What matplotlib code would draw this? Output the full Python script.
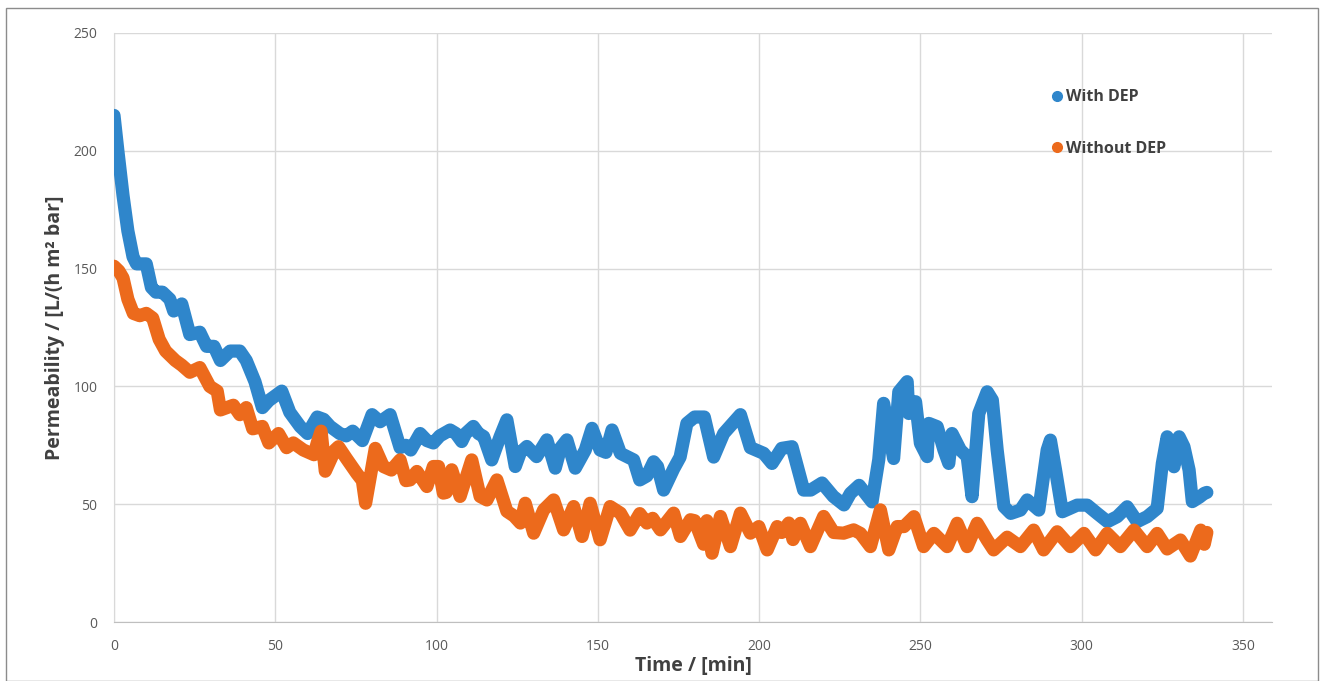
import numpy as np
import matplotlib.pyplot as plt
from matplotlib.lines import Line2D
from matplotlib.patches import Rectangle

# With DEP (time in min, permeability)
t_dep = [0, 1.2, 2.8, 4.3, 5.9, 7, 10, 11.6, 13, 15, 17.3, 18.5, 20, 21, 23.5, 26.6, 28.7, 31, 33, 36,
         39, 41, 43.7, 46, 48, 52, 54.5, 57.7, 60, 63, 65, 67, 70, 72, 74, 77, 80, 82.5, 85.6, 88.7,
         90.5, 92, 94.9, 97, 99, 101, 104.2, 106, 107.8, 109, 111.4, 113, 114.6, 117.1, 119.7, 121.8, 124.4, 126, 128, 131,
         134.2, 136.8, 138.5, 140.4, 143, 146.1, 148.2, 150.7, 152.5, 154.4, 157, 161.1, 163, 165.2, 167.3, 168.5, 170.4, 173.5, 175.5, 177.6,
         180, 183, 185.9, 189, 194.2, 197.3, 201.4, 204, 207, 210.2, 213.8, 216, 219.5, 223, 226.3, 228.3, 231, 235, 237.1, 238.6,
         241.7, 243.3, 245.9, 246.4, 248.5, 250, 252.1, 252.6, 255.2, 257.3, 258.8, 259.8, 262.4, 264.5, 266, 268.1, 270.7, 272.3, 273.8, 275.9,
         278, 281, 283.1, 286.7, 289.3, 290.3, 291.9, 294, 298.6, 301.7, 304.8, 308, 311, 314.1, 317.2, 320.3, 323.4, 325, 326.5, 328.6,
         330.2, 331.7, 333.3, 334.3, 336.5, 338, 338.8]
v_dep = [215, 200, 181, 166, 155, 152, 152, 142, 140, 140, 137, 132, 133, 135, 122, 123, 117, 117, 111, 115,
         115, 111, 102, 91, 94, 98, 89, 83, 80, 87, 86, 83, 80, 79, 81, 77, 88, 85, 88, 74,
         75, 73, 80, 77, 76, 79, 81.5, 80, 76.6, 80, 83, 80, 78.7, 68.8, 78.7, 85.8, 66, 72, 74.5, 70.2,
         77.3, 65.3, 74, 77.3, 65.3, 73, 82.2, 73, 72, 81.5, 71.6, 68.8, 60.3, 62, 68, 66, 56, 65, 70, 84.3,
         87, 87, 70, 80, 88, 74, 71.6, 67.3, 73.7, 74.4, 56, 56, 59, 53.3, 49.7, 54.6, 58, 51, 69, 92.8,
         69.4, 97.7, 102, 88.5, 93.5, 75.8, 70.2, 84.3, 82.9, 73, 67.3, 80, 73, 70.2, 53.2, 88.5, 97.7, 94.2, 73, 49,
         46.1, 47.5, 51.8, 47.5, 73, 77.2, 64.5, 46.8, 49.6, 49.6, 46.1, 42.6, 44.7, 48.9, 42.6, 44.7, 48.2, 67.3, 78.6, 65.9,
         78.6, 74.4, 64.5, 51.1, 53, 54.6, 55]

# Without DEP
t_nodep = [0, 1.5, 2.8, 4.3, 6, 8, 10, 12, 14, 16, 19, 21, 23.5, 26.6, 29.7, 32, 33, 37, 39, 41,
           43, 46, 48, 51, 53.5, 55.6, 58.7, 62, 63, 64.2, 65.5, 68.5, 69.6, 72, 75.3, 77, 78, 81, 83.5, 86,
           88.7, 90.5, 91.8, 93.9, 97, 99, 100.6, 102.1, 103, 104.7, 107.3, 110.9, 113.5, 115.6, 118.7, 121.8, 124, 126, 127.5, 130.1,
           133.2, 136.3, 139.4, 142.5, 145.1, 147.6, 150.7, 153.8, 157, 160, 163, 165.2, 167, 169.4, 173.5, 175.6, 178.7, 180, 182.8, 183.8,
           185.4, 188, 191.1, 194.2, 197.3, 199.9, 202.5, 205.6, 207, 209.2, 210.5, 212.8, 215.9, 220, 223.1, 226.2, 229.3, 231.4, 234.5, 237.6,
           240.2, 242.8, 244.9, 248, 251, 254.2, 258.3, 261.4, 264.5, 267.6, 270.7, 272.7, 276.9, 281, 285.1, 288.2, 292.4, 296.5, 300.7, 304.3,
           307.9, 312, 316.2, 320.3, 323.4, 326.5, 330.6, 333.7, 336.9, 338, 338.8]
v_nodep = [151, 149, 146, 137, 131, 130, 131, 129, 120, 115, 111, 109, 106, 108, 100, 98, 90, 92, 88, 91,
           82, 83, 76, 80, 74, 76, 73, 71, 76, 81, 64, 73, 74.4, 69.5, 63, 60, 50.4, 73.7, 66, 64.5,
           68.8, 60, 60.3, 63.9, 57.5, 66, 66, 54.7, 55, 64.6, 53.3, 68.8, 53.3, 51.8, 60.3, 47, 45, 42, 50.4, 37.7,
           47.6, 51.8, 39.1, 49, 36.3, 50.4, 34.9, 49, 46.2, 39, 46, 42, 44, 39.1, 46.2, 36.3, 43.4, 43, 33, 43,
           29.2, 44.8, 32, 46.2, 37.7, 40.5, 30.6, 40.5, 38, 42, 35, 41.9, 32, 44.8, 38, 37.7, 39.1, 37.6, 32, 47.6,
           30.6, 40.5, 40.5, 44.7, 32, 37.6, 32, 41.9, 32, 41.9, 34.8, 30.6, 36, 32, 39, 30.6, 38.3, 32, 37.6, 30.6,
           37.6, 32, 39, 32, 37.6, 31, 34.8, 28, 39, 33, 38]

blue = '#2F86CB'
orange = '#EC6A1C'

plt.rcParams['font.family'] = 'Open Sans'

fig = plt.figure(figsize=(13.21, 6.81), dpi=100)
ax = fig.add_axes([114/1321, 1-622/681, (1272-114)/1321, (622-33)/681])

ax.plot(t_dep, v_dep, color=blue, lw=9.5, solid_joinstyle='round', solid_capstyle='round', zorder=3)
ax.plot(t_nodep, v_nodep, color=orange, lw=9.5, solid_joinstyle='round', solid_capstyle='round', zorder=3)

ax.set_xlim(0, 359)
ax.set_ylim(0, 250)
ax.set_xticks(np.arange(0, 351, 50))
ax.set_yticks(np.arange(0, 251, 50))
ax.grid(True, color='#D9D9D9', lw=1)
ax.set_axisbelow(True)
for s in ['top', 'right']:
    ax.spines[s].set_visible(False)
ax.spines['left'].set_color('#D9D9D9')
ax.spines['bottom'].set_color('#BFBFBF')
ax.tick_params(length=0, labelsize=10, colors='#595959', pad=12)

ax.set_xlabel('Time / [min]', fontsize=14, fontweight='bold', color='#404040', labelpad=2)
ax.set_ylabel('Permeability / [L/(h m² bar]', fontsize=14, fontweight='bold', color='#404040', labelpad=6)

handles = [Line2D([], [], ls='none', marker='o', ms=7, color=blue),
           Line2D([], [], ls='none', marker='o', ms=7, color=orange)]
leg = ax.legend(handles, ['With DEP', 'Without DEP'], loc='center left',
                bbox_to_anchor=(1052/1321, 1-123/681), bbox_transform=fig.transFigure,
                frameon=False, handlelength=0.6, handletextpad=0.3, labelspacing=2.2,
                borderpad=0, borderaxespad=0, prop={'weight': 'bold', 'size': 11.5})
for txt in leg.get_texts():
    txt.set_color('#404040')

fig.patches.append(Rectangle((6/1321, 0), 1312/1321, 1-8/681, transform=fig.transFigure,
                             fill=False, edgecolor='#8C8C8C', lw=1))

fig.savefig('out.png', dpi=100)
